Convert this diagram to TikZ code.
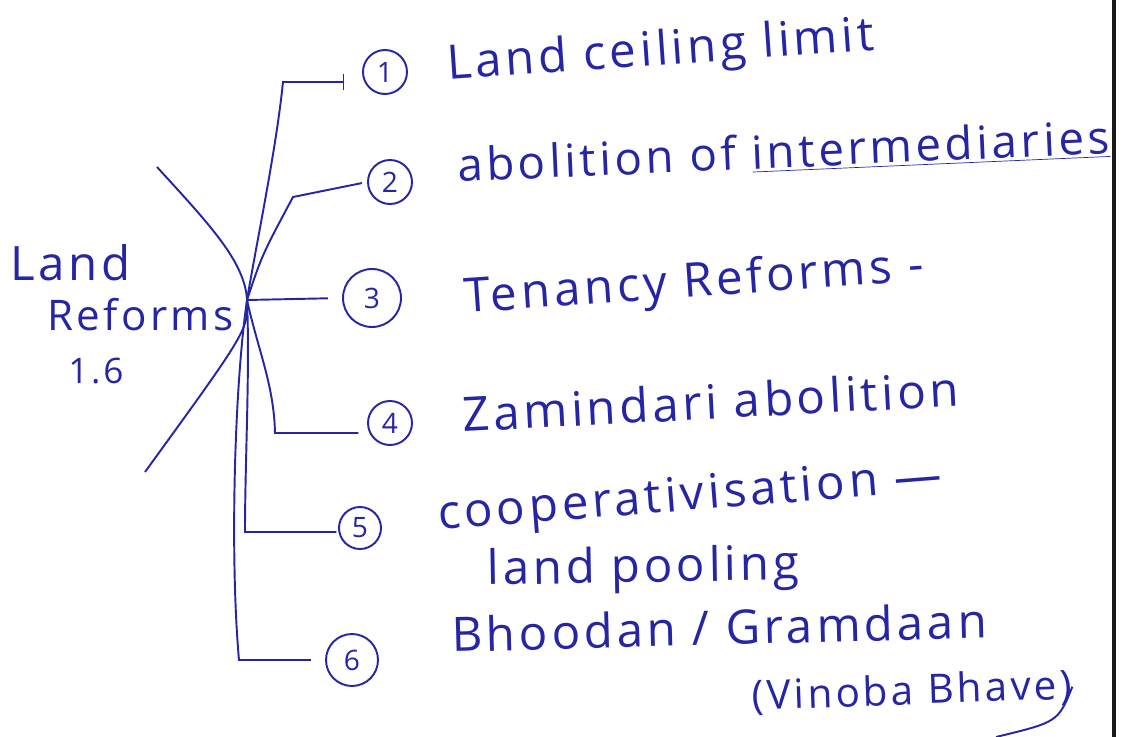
\documentclass[tikz,border=0pt]{standalone}
\usepackage{fontspec}
\setmainfont{Open Sans}
\newfontfamily\handfont{Open Sans}[LetterSpace=8]
\usetikzlibrary{arrows.meta,positioning}
\definecolor{inkblue}{RGB}{38,38,165}
\definecolor{rulegray}{RGB}{25,25,25}

\begin{document}
\begin{tikzpicture}[
    x=0.02cm, y=-0.02cm,
    num/.style={circle, draw=inkblue, line width=1.1pt, text=inkblue, minimum size=0.88cm, inner sep=0pt, font=\fontsize{16}{16}\selectfont},
    item/.style={anchor=base west, text=inkblue, inner sep=0pt, font=\handfont\fontsize{27}{30}\selectfont},
    branch/.style={draw=inkblue, line width=1.1pt},
    ink/.style={draw=inkblue, line width=1.1pt}
  ]
    \useasboundingbox (0,0) rectangle (1140,737);
    \draw[rulegray, line width=1.8pt] (1114,0) -- (1114,737);

    \coordinate (hub) at (247,300);
    \node[item, font=\handfont\fontsize{27}{30}\selectfont] (land) at (10,280) {Land};
    \node[item, font=\handfont\fontsize{24}{28}\selectfont] (reforms) at (47,330) {Reforms};
    \node[item, font=\handfont\fontsize{20}{24}\selectfont] (part) at (68,383) {1.6};

    \coordinate (arcA) at (157,167);
    \coordinate (arcB) at (145,472);
    \draw[ink] (arcA) .. controls (210,225) and (245,262) .. (hub) .. controls (248,330) .. (arcB);

    \node[num] (n1) at (385,72) {1};
    \node[num] (n2) at (390,182) {2};
    \node[num, minimum size=1.16cm] (n3) at (372,298) {3};
    \node[num] (n4) at (390,423) {4};
    \node[num, minimum size=0.84cm] (n5) at (360,528) {5};
    \node[num, minimum size=1.04cm] (n6) at (352,660) {6};

    \coordinate (k1) at (283,82);
    \coordinate (k2) at (293,197);
    \coordinate (k4) at (275,433);
    \coordinate (k5) at (245,532);
    \coordinate (k6) at (239,660);

    \draw[branch, -{Bar[width=9pt]}, shorten >=10pt] (hub) .. controls (258,235) and (276,150) .. (k1) -- (k1 -| n1.west);
    \draw[branch, shorten >=3pt] (hub) .. controls (262,255) .. (k2) -- (n2.west);
    \draw[branch, shorten >=8pt] (hub) -- (n3.west);
    \draw[branch, shorten >=5pt] (hub) .. controls (258,350) and (274,385) .. (k4) -- (k4 -| n4.west);
    \draw[branch, shorten >=1pt] (hub) .. controls (250,370) and (245,460) .. (k5) -- (k5 -| n5.west);
    \draw[branch, shorten >=8pt] (hub) .. controls (234,390) and (230,560) .. (k6) -- (k6 -| n6.west);

    \node[item, rotate=4] (t1) at (448,80) {Land ceiling limit};
    \node[item, rotate=2.5, font=\handfont\fontsize{26}{30}\selectfont] (t2) at (458,182) {abolition of \underline{intermediaries}};
    \node[item, rotate=4] (t3) at (465,313) {Tenancy Reforms -};
    \node[item, rotate=3] (t4) at (463,432) {Zamindari abolition};
    \node[item, rotate=4.5] (t5) at (439,530) {cooperativisation \textemdash};
    \node[item, rotate=1] (t5b) at (487,585) {land pooling};
    \node[item, rotate=1.5] (t6) at (452,652) {Bhoodan / Gramdaan};
    \node[item, rotate=2, font=\handfont\fontsize{23}{27}\selectfont] (t6b) at (752,710) {(Vinoba Bhave)};

    \coordinate (tail) at (996,737);
    \draw[ink] (t6b.east) .. controls (1058,722) .. (tail);
  \end{tikzpicture}
\end{document}
